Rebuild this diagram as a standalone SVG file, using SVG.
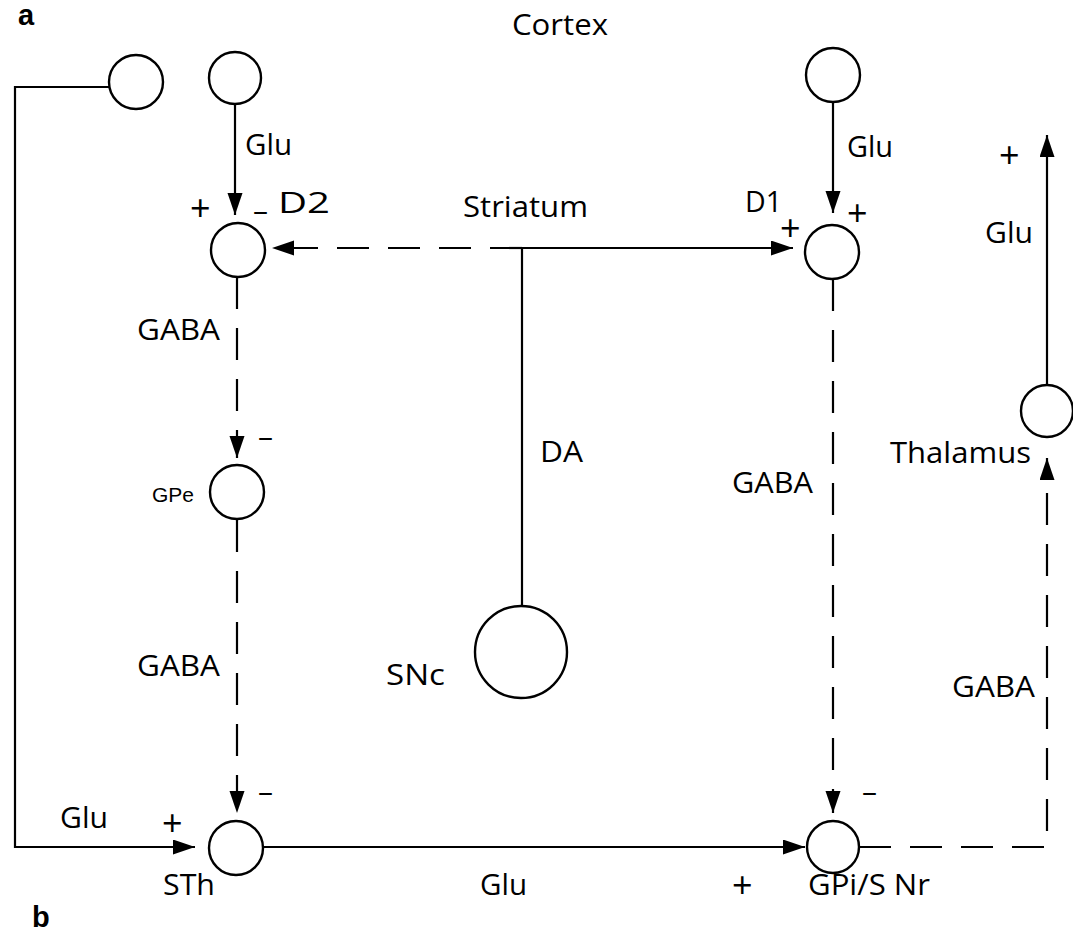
<svg xmlns="http://www.w3.org/2000/svg" width="1073" height="932" viewBox="0 0 1073 932">
<defs>
<style>
.n{fill:#fff;stroke:#000;stroke-width:2.4}
.c{fill:none;stroke:#000;stroke-width:2.2}
.d{fill:none;stroke:#000;stroke-width:2.2;stroke-dasharray:32 19}
text{font-family:"Open Sans","Liberation Sans",sans-serif;font-size:30px;fill:#000}
.p{font-size:36px}
.s{font-family:"Liberation Sans",Arial,sans-serif;font-size:21px}
.b{font-weight:bold;font-family:"Liberation Sans",Arial,sans-serif;font-size:29px}
</style>
<marker id="ah" markerUnits="userSpaceOnUse" markerWidth="24" markerHeight="16" refX="22" refY="7.5" orient="auto">
<path d="M0,0 L22,7.5 L0,15 Z" fill="#000"/>
</marker>
</defs>
<rect width="1073" height="932" fill="#fff"/>
<text class="b" x="18" y="25">a</text>
<text class="b" x="32" y="927">b</text>
<text x="512" y="35" textLength="96" lengthAdjust="spacingAndGlyphs">Cortex</text>

<g id="connectors">
<path class="c" d="M109,87 H15 V847 H195" marker-end="url(#ah)"/>
<path class="c" d="M235,104 V215" marker-end="url(#ah)"/>
<path class="c" d="M833,102 V213" marker-end="url(#ah)"/>
<path class="d" d="M522,248 H272" marker-end="url(#ah)"/>
<path class="c" d="M522,248 H793" marker-end="url(#ah)"/>
<path class="c" d="M522,248 V606"/>
<path class="d" d="M237,277 V458" marker-end="url(#ah)"/>
<path class="d" d="M237,520 V813" marker-end="url(#ah)"/>
<path class="d" d="M833,279 V813" marker-end="url(#ah)"/>
<path class="c" d="M263,847 H805" marker-end="url(#ah)"/>
<path class="d" d="M859,847 H1047 V458" marker-end="url(#ah)"/>
<path class="c" d="M1047,385 V135" marker-end="url(#ah)"/>
</g>

<g id="cortex1"><circle class="n" cx="136" cy="82" r="27"/></g>
<g id="cortex2"><circle class="n" cx="235" cy="78" r="26"/></g>
<g id="cortex3"><circle class="n" cx="833" cy="75" r="27"/></g>
<g id="d2"><circle class="n" cx="238" cy="250" r="27"/>
<text class="p" x="190" y="221">+</text><text x="253" y="221">–</text><text x="278" y="213" textLength="52" lengthAdjust="spacingAndGlyphs">D2</text></g>
<g id="striatum"><text x="463" y="217" textLength="125" lengthAdjust="spacingAndGlyphs">Striatum</text></g>
<g id="d1"><circle class="n" cx="832" cy="252" r="27"/>
<text x="745" y="212" textLength="37" lengthAdjust="spacingAndGlyphs">D1</text><text class="p" x="780" y="241">+</text><text class="p" x="847" y="226">+</text></g>
<g id="gpe"><circle class="n" cx="237" cy="492" r="27"/>
<text class="s" x="152" y="502">GPe</text><text x="258" y="447">–</text></g>
<g id="snc"><circle class="n" cx="521" cy="652" r="46"/>
<text x="386" y="685" textLength="59" lengthAdjust="spacingAndGlyphs">SNc</text></g>
<g id="thalamus"><circle class="n" cx="1047" cy="411" r="26"/>
<text x="890" y="463" textLength="141" lengthAdjust="spacingAndGlyphs">Thalamus</text></g>
<g id="sth"><circle class="n" cx="236" cy="848" r="27"/>
<text class="p" x="162" y="836">+</text><text x="258" y="802">–</text><text x="163" y="895" textLength="52" lengthAdjust="spacingAndGlyphs">STh</text></g>
<g id="gpi"><circle class="n" cx="833" cy="847" r="26"/>
<text class="p" x="732" y="898">+</text><text x="862" y="802">–</text><text x="808" y="895" textLength="122" lengthAdjust="spacingAndGlyphs">GPi/S Nr</text></g>

<g id="labels">
<text x="245" y="155" textLength="47" lengthAdjust="spacingAndGlyphs">Glu</text>
<text x="847" y="157" textLength="46" lengthAdjust="spacingAndGlyphs">Glu</text>
<text x="985" y="243" textLength="48" lengthAdjust="spacingAndGlyphs">Glu</text>
<text class="p" x="999" y="168">+</text>
<text x="540" y="462" textLength="43" lengthAdjust="spacingAndGlyphs">DA</text>
<text x="137" y="340" textLength="83" lengthAdjust="spacingAndGlyphs">GABA</text>
<text x="137" y="676" textLength="83" lengthAdjust="spacingAndGlyphs">GABA</text>
<text x="732" y="493" textLength="81" lengthAdjust="spacingAndGlyphs">GABA</text>
<text x="952" y="697" textLength="83" lengthAdjust="spacingAndGlyphs">GABA</text>
<text x="60" y="828" textLength="48" lengthAdjust="spacingAndGlyphs">Glu</text>
<text x="480" y="895" textLength="47" lengthAdjust="spacingAndGlyphs">Glu</text>
</g>
</svg>
